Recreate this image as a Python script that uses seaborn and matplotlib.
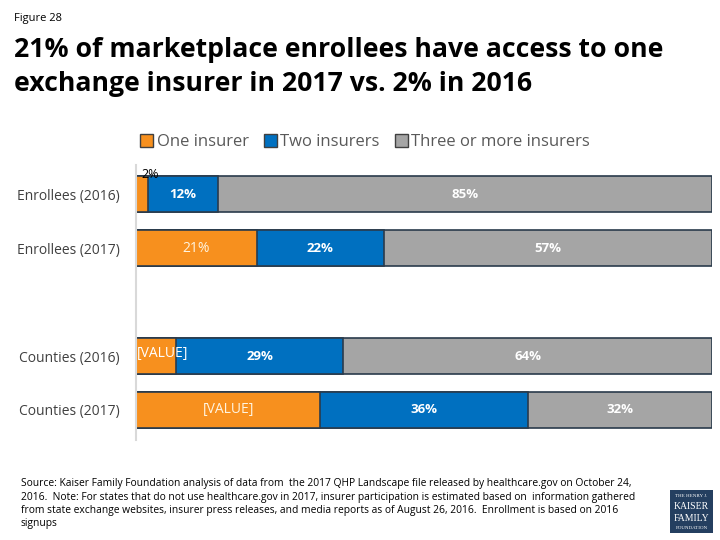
import matplotlib
matplotlib.use("Agg")
import matplotlib.pyplot as plt
import seaborn as sns
import pandas as pd
import numpy as np
from matplotlib.patches import Patch, Rectangle

# data
rows = ["Enrollees (2016)", "Enrollees (2017)", "Counties (2016)", "Counties (2017)"]
one_insurer = [2, 21, 7, 32]
two_insurers = [12, 22, 29, 36]
three_plus = [85, 57, 64, 32]
series = ["One insurer", "Two insurers", "Three or more insurers"]
colors = ["#F7901E", "#0070C0", "#A5A5A5"]
order = ["Enrollees (2016)", "Enrollees (2017)", " ", "Counties (2016)", "Counties (2017)"]

# labels as shown (the counties orange labels were never filled in)
one_labels = ["2%", "21%", "[VALUE]", "[VALUE]"]
two_labels = ["12%", "22%", "29%", "36%"]
three_labels = ["85%", "57%", "64%", "32%"]

sns.set_theme(style="white")
plt.rcParams["font.family"] = ["Open Sans", "DejaVu Sans"]

df = pd.DataFrame({"row": rows, "one": one_insurer, "two": two_insurers, "three": three_plus})
# 100% stacked: normalise each row to its total
tot = df[["one", "two", "three"]].sum(axis=1)
df["c1"] = df["one"] / tot * 100
df["c2"] = (df["one"] + df["two"]) / tot * 100
df["c3"] = 100.0

fig = plt.figure(figsize=(7.2, 5.4), dpi=100)
ax = fig.add_axes([0.189, 0.186, 0.800, 0.509])

# stacked horizontal bars: draw totals first, then overlay
for col, c in zip(["c3", "c2", "c1"], colors[::-1]):
    sns.barplot(data=df, y="row", x=col, order=order, orient="h", color=c,
                saturation=1, width=0.67, edgecolor="#2a3b4c", linewidth=1.2, ax=ax)

ax.set_xlim(0, 100)
ax.set_ylim(4.55, -0.55)
ax.set_xlabel("")
ax.set_ylabel("")
ax.set_xticks([])
ax.tick_params(axis="y", length=0, pad=12, labelsize=10)
for lbl in ax.get_yticklabels():
    lbl.set_color("#404040")
for s in ["top", "right", "bottom"]:
    ax.spines[s].set_visible(False)
ax.spines["left"].set_color("#d9d9d9")
ax.spines["left"].set_linewidth(1.5)

ypos = {r: order.index(r) for r in rows}
for i, r in enumerate(rows):
    y = ypos[r]
    c1, c2, c3 = df.loc[i, ["c1", "c2", "c3"]]
    if r == "Enrollees (2016)":
        ax.text(c1 / 2 + 1.5, y - 0.37, one_labels[i], ha="center", va="center", fontsize=9, color="black")
    elif one_labels[i] == "[VALUE]" and c1 < 10:
        ax.text(0.2, y - 0.05, one_labels[i], ha="left", va="center", fontsize=10, color="white")
    else:
        ax.text(c1 / 2, y, one_labels[i], ha="center", va="center", fontsize=10, color="#fff4e0")
    ax.text((c1 + c2) / 2, y, two_labels[i], ha="center", va="center", fontsize=9.5,
            color="white", fontweight="bold")
    ax.text((c2 + c3) / 2, y, three_labels[i], ha="center", va="center", fontsize=9.5,
            color="white", fontweight="bold")

# legend
handles = [Patch(facecolor=c, edgecolor="#404040", label=s) for c, s in zip(colors, series)]
fig.legend(handles=handles, loc="center", bbox_to_anchor=(0.507, 0.737), ncol=3, frameon=False,
           fontsize=12, handlelength=0.8, handleheight=0.8, handletextpad=0.2, columnspacing=0.9,
           labelcolor="#595959")

fig.text(0.019, 0.966, "Figure 28", fontsize=8, color="black", va="center")
fig.text(0.019, 0.876, "21% of marketplace enrollees have access to one\nexchange insurer in 2017 vs. 2% in 2016",
         fontsize=19.2, fontweight="bold", color="black", va="center", linespacing=1.4)

note = ("Source: Kaiser Family Foundation analysis of data from  the 2017 QHP Landscape file released by healthcare.gov on October 24,\n"
        "2016.  Note: For states that do not use healthcare.gov in 2017, insurer participation is estimated based on  information gathered\n"
        "from state exchange websites, insurer press releases, and media reports as of August 26, 2016.  Enrollment is based on 2016\n"
        "signups")
fig.text(0.029, 0.067, note, fontsize=7.4, color="black", va="center", linespacing=1.3)

# logo box
fig.add_artist(Rectangle((0.931, 0.013), 0.059, 0.080, transform=fig.transFigure,
                         facecolor="#243f60", edgecolor="none"))
logo_x = 0.9605
fig.text(logo_x, 0.081, "THE HENRY J.", fontsize=3.6, color="white", ha="center", va="center",
         family="Liberation Serif")
fig.text(logo_x, 0.062, "KAISER", fontsize=7, color="white", ha="center", va="center",
         family="Liberation Serif")
fig.text(logo_x, 0.040, "FAMILY", fontsize=7, color="white", ha="center", va="center",
         family="Liberation Serif")
fig.text(logo_x, 0.022, "FOUNDATION", fontsize=3.6, color="white", ha="center", va="center",
         family="Liberation Serif")

fig.savefig("out.png", dpi=100)
